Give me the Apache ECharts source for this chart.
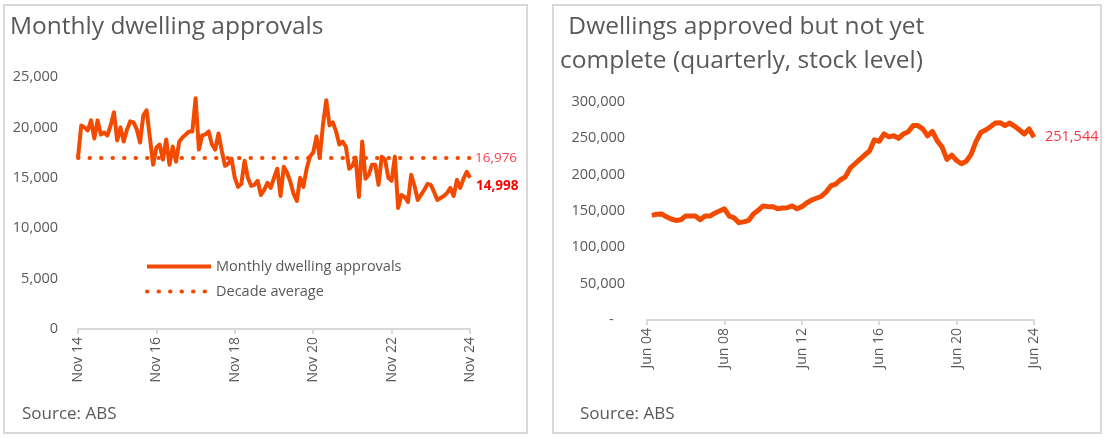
<!DOCTYPE html>
<html>
<head>
<meta charset="utf-8">
<script src="https://cdn.jsdelivr.net/npm/echarts@6/dist/echarts.min.js"></script>
<style>
    html, body { margin: 0; padding: 0; background: #fff; }
    #main { width: 1105px; height: 438px; }
</style>
</head>
<body>
<div id="main"></div>
<script>
//月度住宅审批 Nov 14 - Nov 24
var monthNames = ['Jan', 'Feb', 'Mar', 'Apr', 'May', 'Jun', 'Jul', 'Aug', 'Sep', 'Oct', 'Nov', 'Dec'];
var approvals = [
    17000, 20200, 20000, 19700, 20700, 18900, 20700, 19300, 19500, 19200,
    20200, 21500, 18700, 20000, 18600, 19800, 20600, 20500, 19800, 18500,
    21200, 21700, 19000, 16300, 18000, 18300, 16800, 18800, 16300, 18100,
    16600, 18600, 19000, 19300, 19600, 19600, 22900, 17800, 19200, 19300,
    19600, 18300, 17800, 19400, 17700, 16200, 16400, 16900, 15000, 14100,
    14400, 16700, 15000, 14200, 14300, 14700, 13300, 13800, 14500, 14000,
    15000, 15900, 13200, 16100, 15500, 14600, 13400, 12700, 15000, 14100,
    15900, 17100, 17500, 19100, 17000, 20300, 22700, 20200, 20500, 19600,
    18300, 18600, 18100, 15900, 16200, 17000, 13100, 18600, 14900, 15300,
    16300, 16300, 14300, 17100, 16800, 15000, 14700, 17100, 12000, 13300,
    13100, 12600, 15300, 14200, 12800, 13300, 13800, 14400, 14300, 13600,
    12800, 13000, 13200, 13500, 14000, 13200, 14800, 14000, 14900, 15600,
    14998
];
var decadeAverage = 16976;
var approvalStart = {month: 10, year: 14}; //Nov 14

//已审批未完工(季度) Sep 04 - Jun 24，Jun 04 无数据
var pipeline = [
    144000, 145500, 146000, 142000, 139000, 137000, 138000, 143000, 143000, 143000,
    138000, 143000, 143000, 147000, 150000, 153000, 143000, 140500, 134000, 135000,
    137000, 146000, 151000, 157000, 156000, 156000, 153000, 154000, 154500, 157000,
    153000, 156000, 161000, 165000, 167500, 170000, 176000, 184500, 187000, 193000,
    197000, 209000, 215000, 221000, 227000, 232500, 248000, 246000, 256000, 252000,
    253500, 250000, 256000, 259000, 267500, 267500, 263000, 253500, 259500, 246500,
    238000, 221000, 227000, 219500, 215000, 218500, 228000, 245500, 258000, 261500,
    266000, 271000, 271500, 267500, 271000, 266500, 261500, 256000, 263000, 251544
];
var pipelineStart = {month: 5, year: 4}; //Jun 04
var pipelineQuarters = 81;

var grey = '#595959';
var axisGrey = '#d9d9d9';
var orange = '#F24B00';
var fontFamily = 'Open Sans';

function pad(n) {
    return (n < 10 ? '0' : '') + n;
}

function buildDates(start, count, step) {
    var list = [];
    for (var i = 0; i < count; i++) {
        var m = start.month + i * step;
        list.push(monthNames[m % 12] + ' ' + pad(start.year + Math.floor(m / 12)));
    }
    return list;
}

function comma(v) {
    return v.toLocaleString('en-US');
}

var approvalDates = buildDates(approvalStart, approvals.length, 1);
var pipelineDates = buildDates(pipelineStart, pipelineQuarters, 3);
var pipelineData = [null].concat(pipeline);

var dom = document.getElementById('main');
var myChart = echarts.init(dom);

var option = {
    backgroundColor: '#fff',
    animation: false,
    textStyle: {fontFamily: fontFamily},
    graphic: [
        {type: 'rect', shape: {x: 4, y: 5, width: 523, height: 428}, style: {fill: 'none', stroke: axisGrey, lineWidth: 2}},
        {type: 'rect', shape: {x: 553, y: 5, width: 548, height: 428}, style: {fill: 'none', stroke: axisGrey, lineWidth: 2}},
        {type: 'text', x: 10, y: 27, style: {text: 'Monthly dwelling approvals', fill: grey, fontSize: 24.5, fontFamily: fontFamily, verticalAlign: 'middle'}},
        {type: 'text', x: 562, y: 27, style: {text: ' Dwellings approved but not yet', fill: grey, fontSize: 24.5, fontFamily: fontFamily, verticalAlign: 'middle'}},
        {type: 'text', x: 560, y: 61, style: {text: 'complete (quarterly, stock level)', fill: grey, fontSize: 24.5, fontFamily: fontFamily, verticalAlign: 'middle'}},
        {type: 'text', x: 22, y: 414, style: {text: 'Source: ABS', fill: grey, fontSize: 17, fontFamily: fontFamily, verticalAlign: 'middle'}},
        {type: 'text', x: 580, y: 414, style: {text: 'Source: ABS', fill: grey, fontSize: 17, fontFamily: fontFamily, verticalAlign: 'middle'}}
    ],
    legend: {
        orient: 'vertical',
        left: 140,
        top: 254,
        itemWidth: 64,
        itemHeight: 14,
        itemGap: 10,
        itemStyle: {opacity: 0},
        lineStyle: {width: 4},
        textStyle: {color: grey, fontSize: 14.5, fontFamily: fontFamily},
        data: ['Monthly dwelling approvals', 'Decade average']
    },
    grid: [
        {left: 78, right: 635, top: 77, bottom: 109},
        {left: 647, right: 71, top: 102, bottom: 118}
    ],
    xAxis: [
        {
            type: 'category', gridIndex: 0, data: approvalDates, boundaryGap: false,
            axisLine: {lineStyle: {color: axisGrey, width: 2}},
            axisTick: {interval: 23, length: 5, lineStyle: {color: axisGrey, width: 2}},
            axisLabel: {interval: 23, rotate: 90, color: grey, fontSize: 14, margin: 8}
        },
        {
            type: 'category', gridIndex: 1, data: pipelineDates, boundaryGap: false,
            axisLine: {lineStyle: {color: axisGrey, width: 2}},
            axisTick: {interval: 15, length: 5, lineStyle: {color: axisGrey, width: 2}},
            axisLabel: {interval: 15, rotate: 90, color: grey, fontSize: 14, margin: 8}
        }
    ],
    yAxis: [
        {
            type: 'value', gridIndex: 0, min: 0, max: 25000, interval: 5000,
            splitLine: {show: false}, axisLine: {show: false}, axisTick: {show: false},
            axisLabel: {color: grey, fontSize: 14.5, margin: 20, formatter: comma}
        },
        {
            type: 'value', gridIndex: 1, min: 0, max: 300000, interval: 50000,
            splitLine: {show: false}, axisLine: {show: false}, axisTick: {show: false},
            axisLabel: {
                color: grey, fontSize: 14.5, margin: 22,
                formatter: function (v) {
                    return v === 0 ? '-   ' : comma(v);
                }
            }
        }
    ],
    series: [
        {
            name: 'Monthly dwelling approvals',
            type: 'line', xAxisIndex: 0, yAxisIndex: 0,
            data: approvals, symbol: 'none',
            lineStyle: {color: orange, width: 4, join: 'round'},
            itemStyle: {color: orange},
            endLabel: {
                show: true, color: '#FF0000', fontWeight: 'bold', fontSize: 13.5, offset: [-2, 8],
                formatter: function (p) { return comma(p.value); }
            }
        },
        {
            name: 'Decade average',
            type: 'line', xAxisIndex: 0, yAxisIndex: 0,
            data: [], symbol: 'none',
            lineStyle: {color: orange, width: 4, type: [0.5, 11], cap: 'round'},
            itemStyle: {color: orange},
            markLine: {
                silent: true, symbol: 'none',
                lineStyle: {color: orange, width: 4, type: [0.5, 11], cap: 'round'},
                label: {position: 'end', color: '#FF4050', fontSize: 13.5, distance: 5, formatter: comma(decadeAverage)},
                data: [{yAxis: decadeAverage}]
            }
        },
        {
            name: 'Approved not complete',
            type: 'line', xAxisIndex: 1, yAxisIndex: 1,
            data: pipelineData, symbol: 'none',
            lineStyle: {color: orange, width: 5, join: 'round'},
            itemStyle: {color: orange},
            endLabel: {
                show: true, color: '#FF3344', fontSize: 14.5, offset: [3, 0],
                formatter: function (p) { return comma(p.value); }
            }
        }
    ]
};

if (option && typeof option === 'object') {
    myChart.setOption(option, true);
}
</script>
</body>
</html>
